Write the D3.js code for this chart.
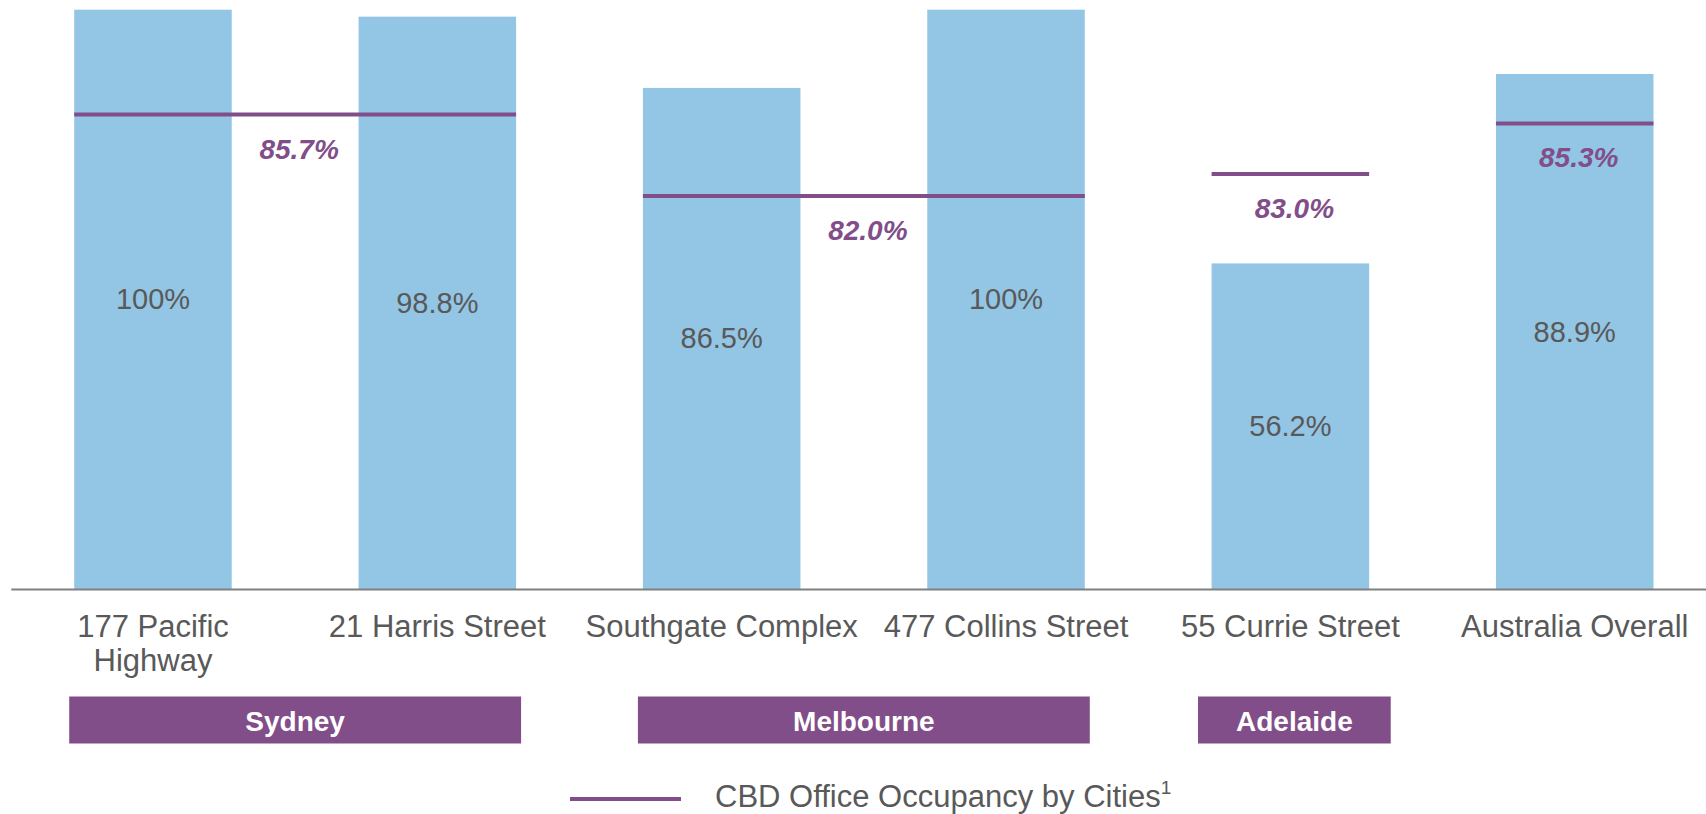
<!DOCTYPE html>
<html>
<head>
<meta charset="utf-8">
<script src="https://cdn.jsdelivr.net/npm/d3@7"></script>
<style>
  html, body { margin: 0; padding: 0; background: #ffffff; }
  svg { display: block; font-family: "Liberation Sans", Arial, Helvetica, sans-serif; }
</style>
</head>
<body>
<svg id="chart" width="1706" height="814"></svg>
<script>
// ---- Data ----
const categories = ["177 Pacific Highway", "21 Harris Street", "Southgate Complex", "477 Collins Street", "55 Currie Street", "Australia Overall"];
const tickLabels = ["177 Pacific\nHighway", "21 Harris Street", "Southgate Complex", "477 Collins Street", "55 Currie Street", "Australia Overall"];
const occupancy = [100, 98.8, 86.5, 100, 56.2, 88.9];
const valueLabels = ["100%", "98.8%", "86.5%", "100%", "56.2%", "88.9%"];

const cityNames = ["Sydney", "Melbourne", "Adelaide"];
const cityFrom = ["177 Pacific Highway", "Southgate Complex", "55 Currie Street"];
const cityTo = ["21 Harris Street", "477 Collins Street", "55 Currie Street"];

const cbdFrom = ["177 Pacific Highway", "Southgate Complex", "55 Currie Street", "Australia Overall"];
const cbdTo = ["21 Harris Street", "477 Collins Street", "55 Currie Street", "Australia Overall"];
const cbdOccupancy = [85.7, 82.0, 83.0, 85.3];
const cbdLabels = ["85.7%", "82.0%", "83.0%", "85.3%"];

const legendLabel = "CBD Office Occupancy by Cities";
const legendNote = "1";

// ---- Style ----
const barColor = "#93C5E4";
const purple = "#814E8A";
const textGray = "#595959";

const svg = d3.select("#chart");

const x = d3.scaleBand()
  .domain(categories)
  .range([10.8, 1716.9])
  .paddingInner(0.446)
  .paddingOuter(0.223);

const y = d3.scaleLinear().domain([0, 100]).range([589, 9.7]);
// secondary axis for the CBD occupancy lines
const y2 = d3.scaleLinear().domain([80, 90]).range([240, 20]);

const data = categories.map((c, i) => ({ c, v: occupancy[i], label: valueLabels[i] }));

// Bars
svg.append("g").selectAll("rect").data(data).join("rect")
  .attr("x", d => x(d.c))
  .attr("y", d => y(d.v))
  .attr("width", x.bandwidth())
  .attr("height", d => y(0) - y(d.v))
  .attr("fill", barColor);

// Value labels
svg.append("g").selectAll("text").data(data).join("text")
  .attr("x", d => x(d.c) + x.bandwidth() / 2)
  .attr("y", d => (y(d.v) + y(0)) / 2)
  .attr("text-anchor", "middle")
  .attr("dominant-baseline", "central")
  .attr("font-size", 29)
  .attr("fill", textGray)
  .text(d => d.label);

// X axis
const labelOf = new Map(categories.map((c, i) => [c, tickLabels[i]]));
const axisG = svg.append("g")
  .attr("transform", `translate(0,${y(0)})`)
  .call(d3.axisBottom(x).tickSize(0).tickSizeOuter(0).tickPadding(26));
axisG.select(".domain").attr("stroke", "#808080").attr("stroke-width", 2);
axisG.selectAll(".tick text")
  .attr("font-size", 31)
  .attr("fill", textGray)
  .attr("font-family", "\"Liberation Sans\", Arial, sans-serif")
  .each(function (d) {
    const t = d3.select(this);
    const yAttr = t.attr("y");
    const lines = labelOf.get(d).split("\n");
    t.text(null);
    lines.forEach((ln, k) => {
      t.append("tspan").attr("x", 0).attr("y", yAttr)
        .attr("dy", (0.71 + k * 1.11) + "em").text(ln);
    });
  });

// CBD occupancy lines
const cbd = cbdOccupancy.map((v, i) => ({
  x0: x(cbdFrom[i]), x1: x(cbdTo[i]) + x.bandwidth(), v, label: cbdLabels[i]
}));
svg.append("g").selectAll("line").data(cbd).join("line")
  .attr("x1", d => d.x0)
  .attr("x2", d => d.x1)
  .attr("y1", d => y2(d.v))
  .attr("y2", d => y2(d.v))
  .attr("stroke", purple)
  .attr("stroke-width", 4);
svg.append("g").selectAll("text").data(cbd).join("text")
  .attr("x", d => (d.x0 + d.x1) / 2 + 4)
  .attr("y", d => y2(d.v) + 44)
  .attr("text-anchor", "middle")
  .attr("font-size", 28)
  .attr("font-weight", "bold")
  .attr("font-style", "italic")
  .attr("fill", purple)
  .text(d => d.label);

// City boxes
const cityG = svg.append("g");
cityNames.forEach((name, i) => {
  const x0 = x(cityFrom[i]);
  const x1 = x(cityTo[i]) + x.bandwidth();
  const single = cityFrom[i] === cityTo[i];
  const cx = (x0 + x1) / 2 + (single ? 4 : 0);
  const g = cityG.append("g");
  const rect = g.append("rect").attr("fill", purple);
  const txt = g.append("text")
    .attr("x", cx)
    .attr("y", 731)
    .attr("text-anchor", "middle")
    .attr("font-size", 28)
    .attr("font-weight", "bold")
    .attr("fill", "#ffffff")
    .text(name);
  const tw = txt.node().getComputedTextLength();
  const bw = Math.max(x1 - x0 + 10, tw + 76);
  rect.attr("x", cx - bw / 2).attr("y", 696.5).attr("width", bw).attr("height", 47);
});

// Legend
const lg = svg.append("g");
lg.append("line")
  .attr("x1", 570).attr("x2", 681)
  .attr("y1", 799).attr("y2", 799)
  .attr("stroke", purple).attr("stroke-width", 4);
const lt = lg.append("text")
  .attr("x", 715).attr("y", 807)
  .attr("font-size", 31)
  .attr("fill", textGray);
lt.append("tspan").text(legendLabel);
lt.append("tspan").attr("font-size", 19).attr("dy", -13).text(legendNote);
</script>
</body>
</html>
